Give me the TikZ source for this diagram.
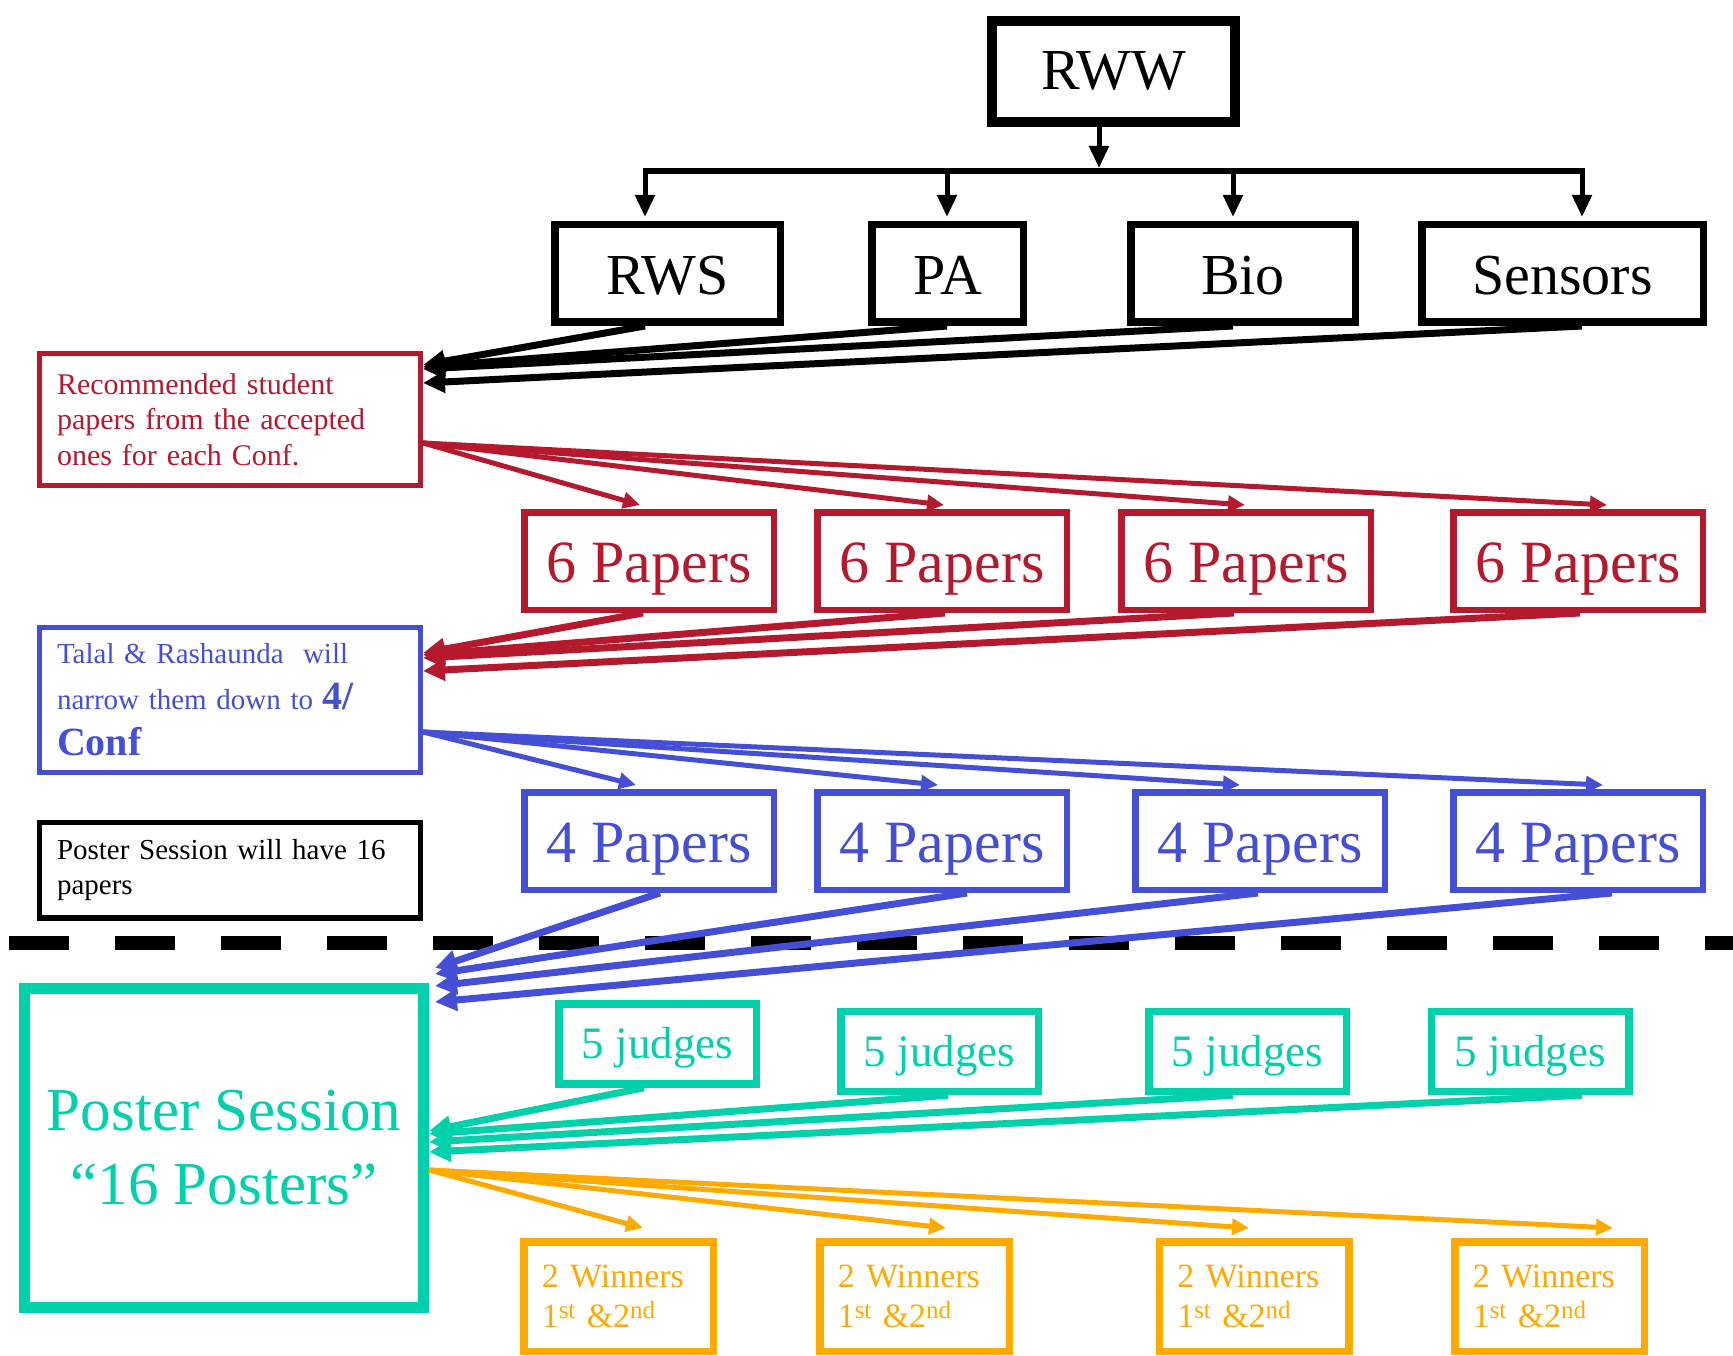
\documentclass[tikz,border=0pt]{standalone}
\usepackage{fontspec}
\setmainfont{Liberation Serif}
\usetikzlibrary{arrows.meta}
\definecolor{cred}{RGB}{181,25,45}
\definecolor{cblue}{RGB}{68,79,214}
\definecolor{cteal}{RGB}{0,209,170}
\definecolor{corange}{RGB}{255,170,0}
\newcommand\fz[2]{\fontsize{#1}{#2}\selectfont}
\newcommand\supx[1]{\raisebox{9pt}{\fz{25}{25}#1}}
\begin{document}
\begin{tikzpicture}[x=1pt,y=-1pt,line join=miter,
  bx/.style={draw,rectangle,inner sep=0pt,align=center},
  txtbox/.style={draw,rectangle,inner ysep=0pt,align=left},
  toprow/.style={bx,line width=7.5pt,minimum height=97.5pt,text height=43pt,text depth=0pt,font=\fz{58}{70}},
  paperbox/.style={bx,line width=6.5pt,minimum width=249.5pt,minimum height=97.5pt,text height=42pt,text depth=0pt,font=\fz{60}{72}},
  judgebox/.style={bx,draw=cteal,text=cteal,line width=7.5pt,minimum width=197.5pt,minimum height=80pt,text height=29pt,text depth=0pt,font=\fz{45}{54}},
  winbox/.style={txtbox,draw=corange,text=corange,line width=7.5pt,inner xsep=18pt,text width=153.5pt,minimum height=109.5pt,font=\fz{34}{40}},
  sidebox/.style={txtbox,line width=5pt,inner xsep=17.5pt,text width=346pt},
  tree/.style={line width=5pt,-{Triangle[length=22pt,width=19pt]}},
  back/.style={line width=7pt,-{Triangle[length=22pt,width=21pt]}},
  fwd/.style={line width=5pt,-{Triangle[length=17pt,width=16pt]}}]
\useasboundingbox (0,0) rectangle (1733,1356);

% ---------- top tree ----------
\node[bx,line width=10pt,minimum width=243pt,minimum height=101pt,text height=37pt,text depth=0pt,font=\fz{58}{70}] (rww) at (1113.5,71.5) {RWW};
\node[toprow,minimum width=225.5pt] (rws) at (667.5,273.5) {RWS};
\node[toprow,minimum width=151.5pt] (pa) at (947.5,273.5) {PA};
\node[toprow,minimum width=224.5pt] (bio) at (1243,273.5) {Bio};
\node[toprow,minimum width=281.5pt] (sen) at (1562.5,273.5) {Sensors};

\coordinate (stem) at (1099,168);
\coordinate (d1) at (645,171);
\coordinate (d2) at (947,171);
\coordinate (d3) at (1233,171);
\coordinate (d4) at (1582,171);
\draw[line width=6pt] ([xshift=-2.5pt]d1) -- ([xshift=2.5pt]d4);
\draw[tree] (rww.south -| stem) -- (stem);
\draw[tree] (d1) -- (645,217);
\draw[tree] (d2) -- (947,217);
\draw[tree] (d3) -- (1233,217);
\draw[tree] (d4) -- (1582,217);

% ---------- side boxes ----------
\node[sidebox,draw=cred,text=cred,minimum height=132pt,font=\fz{30}{35.5}] (rec) at (230,419.5)
  {Recommended student\\papers from the accepted\\ones for each Conf.};
\node[sidebox,draw=cblue,text=cblue,minimum height=145pt,font=\fz{29}{46}] (tal) at (230,700)
  {Talal \& Rashaunda\ \ will\\narrow them down to {\fz{40}{46}\bfseries 4/}\\{\fz{40}{46}\bfseries Conf}};
\node[sidebox,draw=black,line width=5.5pt,minimum height=95.5pt,font=\fz{29}{35}] (ps16) at (230,870)
  {\mbox{Poster Session will have 16}\\papers};

% black arrows into rec
\draw[back] (rws.south -| d1) -- (rec.east |- 0,365);
\draw[back] (pa.south -| d2) -- (rec.east |- 0,367);
\draw[back] (bio.south -| d3) -- (rec.east |- 0,369);
\draw[back] (sen.south -| d4) -- (rec.east |- 0,383);

% ---------- 6 papers ----------
\node[paperbox,draw=cred,text=cred] (p61) at (649,561) {6 Papers};
\node[paperbox,draw=cred,text=cred] (p62) at (942,561) {6 Papers};
\node[paperbox,draw=cred,text=cred] (p63) at (1246,561) {6 Papers};
\node[paperbox,draw=cred,text=cred] (p64) at (1578,561) {6 Papers};

\coordinate (rsrc) at (rec.east |- 0,443);
\draw[fwd,cred] (rsrc) -- (640,505);
\draw[fwd,cred] (rsrc) -- (944,505);
\draw[fwd,cred] (rsrc) -- (1245,505);
\draw[fwd,cred] (rsrc) -- (1607,505);

\draw[back,cred] (p61.south -| 643,0) -- (tal.east |- 0,653);
\draw[back,cred] (p62.south -| 945,0) -- (tal.east |- 0,655);
\draw[back,cred] (p63.south -| 1234,0) -- (tal.east |- 0,658);
\draw[back,cred] (p64.south -| 1580,0) -- (tal.east |- 0,671);

% ---------- 4 papers ----------
\node[paperbox,draw=cblue,text=cblue] (p41) at (649,841) {4 Papers};
\node[paperbox,draw=cblue,text=cblue] (p42) at (942,841) {4 Papers};
\node[paperbox,draw=cblue,text=cblue] (p43) at (1260,841) {4 Papers};
\node[paperbox,draw=cblue,text=cblue] (p44) at (1578,841) {4 Papers};

\coordinate (bsrc) at (tal.east |- 0,732);
\draw[fwd,cblue] (bsrc) -- (636,785);
\draw[fwd,cblue] (bsrc) -- (938,785);
\draw[fwd,cblue] (bsrc) -- (1240,785);
\draw[fwd,cblue] (bsrc) -- (1603,785);

% ---------- dashed separator ----------
\coordinate (dl) at (9,943);
\coordinate (dr) at (1733,943);
\draw[line width=14pt,dash pattern=on 60pt off 46pt] (dl) -- (dr);

% ---------- poster session ----------
\node[bx,draw=cteal,text=cteal,line width=11pt,minimum width=399pt,minimum height=319pt,font=\fz{61}{74}] (pst) at (224,1148)
  {Poster Session\\“16 Posters”};

\coordinate (pin) at (435,0);
\draw[back,cblue] (p41.south -| 660,0) -- (pin |- 0,968);
\draw[back,cblue] (p42.south -| 967,0) -- (pin |- 0,974);
\draw[back,cblue] (p43.south -| 1258,0) -- (pin |- 0,986);
\draw[back,cblue] (p44.south -| 1612,0) -- (pin |- 0,1002);

% ---------- judges ----------
\node[judgebox] (j1) at (657.5,1044) {5 judges};
\node[judgebox] (j2) at (939.5,1051.5) {5 judges};
\node[judgebox] (j3) at (1247.5,1051.5) {5 judges};
\node[judgebox] (j4) at (1530,1051.5) {5 judges};

\draw[back,cteal] (j1.south -| 644,0) -- (pst.east |- 0,1131);
\draw[back,cteal] (j2.south -| 948,0) -- (pst.east |- 0,1134);
\draw[back,cteal] (j3.south -| 1233,0) -- (pst.east |- 0,1142);
\draw[back,cteal] (j4.south -| 1582,0) -- (pst.east |- 0,1152);

% ---------- winners ----------
\node[winbox] (w1) at (618.5,1296.5) {2 Winners\\1\supx{st} \&2\supx{nd}};
\node[winbox] (w2) at (914.5,1296.5) {2 Winners\\1\supx{st} \&2\supx{nd}};
\node[winbox] (w3) at (1254,1296.5) {2 Winners\\1\supx{st} \&2\supx{nd}};
\node[winbox] (w4) at (1549.5,1296.5) {2 Winners\\1\supx{st} \&2\supx{nd}};

\coordinate (osrc) at (pst.east |- 0,1170);
\draw[fwd,corange] (osrc) -- (643,1228);
\draw[fwd,corange] (osrc) -- (946,1228);
\draw[fwd,corange] (osrc) -- (1249,1228);
\draw[fwd,corange] (osrc) -- (1613,1228);
\end{tikzpicture}
\end{document}
